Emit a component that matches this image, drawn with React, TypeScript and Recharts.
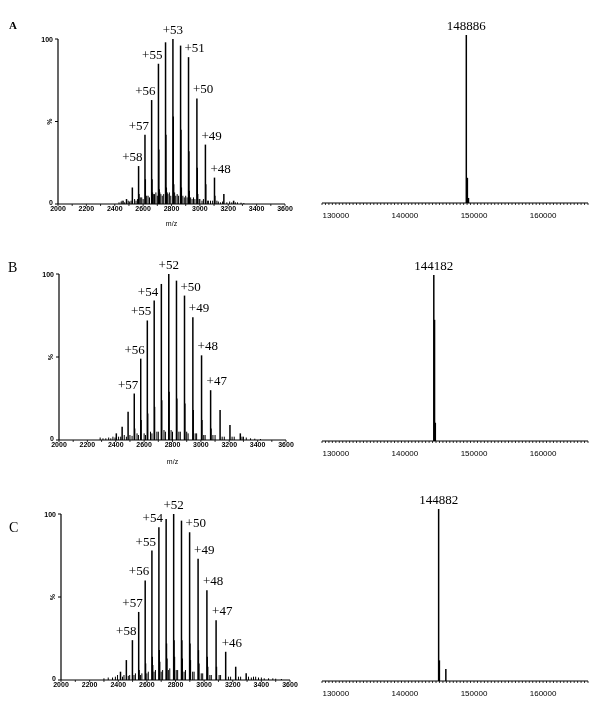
import React from 'react';
import { ScatterChart, Scatter, XAxis, YAxis, ReferenceLine, ReferenceDot } from 'recharts';

// ---------- Panel A ----------
const mzA = [2483, 2524, 2568, 2613, 2660, 2708, 2758, 2810, 2864, 2920, 2979, 3039, 3103, 3169, 3238];
const intA = [3, 10, 23, 42, 63, 85, 98, 100, 96, 89, 64, 36, 16, 6, 2];
const labA = ['', '', '+58', '+57', '+56', '+55', '', '+53', '', '+51', '+50', '+49', '+48', '', ''];
const mzA2 = [2571, 2616, 2663, 2711, 2761, 2813, 2867, 2923, 2982, 3042, 3106, 2666, 2714, 2764, 2816, 2870, 2926, 2985];
const intA2 = [6, 15, 15, 33, 42, 53, 45, 32, 22, 12, 5, 7, 9, 10, 12, 10, 8, 6];
const noiseMzA = [2430, 2445, 2452, 2460, 2470, 2495, 2505, 2515, 2540, 2550, 2560, 2580, 2590, 2600, 2625, 2635, 2645, 2672, 2680, 2690, 2700, 2718, 2725, 2735, 2745, 2770, 2775, 2785, 2795, 2822, 2830, 2840, 2850, 2880, 2890, 2900, 2910, 2935, 2945, 2955, 2965, 2995, 3000, 3015, 3025, 3055, 3060, 3075, 3090, 3120, 3130, 3145, 3160, 3190, 3210, 3225, 3250, 3265, 3290, 3310];
const noiseIntA = [1, 1.5, 2, 2, 1, 2, 1.5, 2, 3, 2, 3, 4, 4, 3, 5, 5, 4, 6, 6, 7, 5, 7, 6, 5, 6, 7, 6, 7, 5, 7, 5, 6, 5, 5, 4, 5, 4, 4, 3, 4, 3, 3, 3, 2, 3, 2, 2, 2, 2, 2, 1.5, 1, 1.5, 1, 1.5, 1, 1, 1, 0.8, 0.6];
const massA = [148886, 149040, 149200];
const massIntA = [100, 15, 3];
const massLabA = ['148886', '', ''];

// ---------- Panel B ----------
const mzB = [2404, 2445, 2487, 2530.5, 2576, 2622.5, 2671, 2721.4, 2773.7, 2828, 2884.6, 2943.5, 3004.8, 3068.7, 3135.4, 3205, 3278];
const intB = [4, 8, 17, 28, 49, 72, 84, 94, 100, 96, 87, 74, 51, 30, 18, 9, 4];
const labB = ['', '', '', '+57', '+56', '+55', '+54', '', '+52', '', '+50', '+49', '+48', '+47', '', '', ''];
const mzB2 = [2533.5, 2579, 2625.5, 2674, 2724.4, 2776.7, 2831, 2887.6, 2946.5, 3007.8, 3071.7];
const intB2 = [7, 12, 16, 20, 24, 29, 25, 22, 18, 12, 7];
const noiseMzB = [2290, 2310, 2330, 2350, 2365, 2380, 2395, 2420, 2435, 2460, 2475, 2500, 2515, 2550, 2560, 2600, 2610, 2645, 2655, 2690, 2700, 2740, 2750, 2790, 2800, 2845, 2855, 2900, 2910, 2960, 2970, 3020, 3030, 3085, 3100, 3150, 3165, 3220, 3235, 3290, 3300, 3320, 3350, 3380, 3420];
const noiseIntB = [1.5, 1, 1, 1.5, 1, 2, 1.5, 2, 2, 3, 2, 3, 2.5, 4, 3, 4, 3, 5, 4, 5, 5, 6, 5, 6, 5, 5, 5, 5, 4, 4, 4, 3, 3, 3, 3, 2, 2, 2, 2, 2, 2, 1.5, 1, 0.8, 0.6];
const massB = [144182, 144290, 144400];
const massIntB = [100, 73, 11];
const massLabB = ['144182', '', ''];

// ---------- Panel C ----------
const mzC = [2415.7, 2456.6, 2499, 2542.8, 2588.2, 2635.2, 2684, 2734.6, 2787.2, 2841.8, 2898.6, 2957.8, 3019.4, 3083.6, 3150.6, 3220.6, 3293.8];
const intC = [5, 12, 24, 41, 60, 78, 92, 97, 100, 96, 89, 73, 54, 36, 17, 8, 4];
const labC = ['', '', '+58', '+57', '+56', '+55', '+54', '', '+52', '', '+50', '+49', '+48', '+47', '+46', '', ''];
const mzC2 = [2545.8, 2591.2, 2638.2, 2687, 2737.6, 2790.2, 2844.8, 2901.6, 2960.8, 3022.4, 3086.6, 2641, 2690, 2740.6, 2793.2, 2847.8, 2904.6, 2963.8, 3025.4];
const intC2 = [6, 10, 14, 18, 22, 24, 24, 22, 18, 14, 8, 9, 11, 13, 14, 13, 12, 10, 8];
const noiseMzC = [2300, 2330, 2360, 2380, 2395, 2430, 2440, 2470, 2480, 2510, 2520, 2555, 2565, 2600, 2610, 2650, 2660, 2700, 2710, 2750, 2760, 2805, 2815, 2860, 2870, 2920, 2930, 2980, 2990, 3040, 3050, 3105, 3115, 3170, 3185, 3240, 3255, 3310, 3330, 3345, 3360, 3380, 3400, 3420, 3450, 3480, 3500, 3540];
const noiseIntC = [1, 1.5, 1.5, 2, 3, 2, 3, 2.5, 3, 3, 4, 3, 4, 4, 5, 5, 6, 5, 6, 6, 7, 6, 6, 5, 6, 5, 5, 4, 4, 3, 3, 3, 3, 2, 2, 2, 2, 2, 1.5, 2, 2, 1.5, 1.5, 1, 1, 1, 0.8, 0.6];
const massC = [144882, 144990, 145925];
const massIntC = [100, 12, 7];
const massLabC = ['144882', '', ''];

// ---------- Axis ticks ----------
const mzTicks = [2000, 2100, 2200, 2300, 2400, 2500, 2600, 2700, 2800, 2900, 3000, 3100, 3200, 3300, 3400, 3500, 3600];
const mzTickLabels = ['2000', '', '2200', '', '2400', '', '2600', '', '2800', '', '3000', '', '3200', '', '3400', '', '3600'];
const massTickLabels: Record<number, string> = { 130000: '130000', 140000: '140000', 150000: '150000', 160000: '160000' };
const massTicks: number[] = [];
for (let t = 128000; t <= 166500; t += 500) massTicks.push(t);

type Peak = { mz: number; i: number; label: string };
const build = (mz: number[], it: number[], lab?: string[]): Peak[] =>
  mz.map((m, k) => ({ mz: m, i: it[k], label: lab ? lab[k] : '' }));

const SANS = '"Liberation Sans", Arial, sans-serif';
const SERIF = '"Liberation Serif", "Times New Roman", serif';

const YTick = (props: any) => {
  const { x, y, payload } = props;
  if (payload.value === 50) {
    return (
      <text x={x - 4} y={y} transform={`rotate(-90 ${x - 4} ${y})`} textAnchor="middle" dy={2.5}
        fontSize={7} fontFamily={SANS} fontWeight="bold" fill="#000">%</text>
    );
  }
  return (
    <text x={x} y={y} dy={payload.value === 0 ? 0.5 : 2.5} textAnchor="end" fontSize={7} fontFamily={SANS} fontWeight="bold" fill="#000">
      {payload.value}
    </text>
  );
};

type SpecProps = {
  left: number; top: number; width: number; height: number;
  margin: { top: number; right: number; bottom: number; left: number };
  kind: 'mz' | 'mass';
  main: Peak[]; minor: Peak[]; noise: Peak[];
  xLabel?: string; tickMargin: number; xHeight: number; labelOffset?: number;
};

function Spectrum(p: SpecProps) {
  const isMz = p.kind === 'mz';
  const apexIdx = p.main.reduce((best, q, k) => (q.i > p.main[best].i ? k : best), 0);
  const all = [...p.main, ...p.minor, ...p.noise];
  return (
    <div style={{ position: 'absolute', left: p.left, top: p.top, width: p.width, height: p.height }}>
      <ScatterChart width={p.width} height={p.height} margin={p.margin}>
        <XAxis
          type="number" dataKey="mz"
          domain={isMz ? [2000, 3600] : [128000, 166500]}
          ticks={isMz ? mzTicks : massTicks}
          interval={0}
          tickFormatter={(v: number) => isMz ? mzTickLabels[mzTicks.indexOf(v)] : (massTickLabels[v] || '')}
          tickSize={2} tickMargin={p.tickMargin} height={p.xHeight}
          axisLine={{ stroke: '#000', strokeWidth: 1 }} tickLine={{ stroke: '#000', strokeWidth: 0.8 }}
          tick={{ fill: '#000', fontSize: isMz ? 7 : 8, fontFamily: SANS, fontWeight: isMz ? 'bold' : 'normal' }}
          label={p.xLabel ? { value: p.xLabel, position: 'insideBottom', offset: p.labelOffset ?? 0, style: { fontSize: 7, fill: '#000', fontFamily: SANS } } : undefined}
        />
        <YAxis
          type="number" dataKey="i" domain={[0, 100]} ticks={[0, 50, 100]} interval={0}
          hide={!isMz} width={20} tickSize={3} tickMargin={2}
          axisLine={{ stroke: '#000', strokeWidth: 1.2 }} tickLine={{ stroke: '#000' }}
          tick={<YTick />}
        />
        <Scatter data={all} isAnimationActive={false} shape={() => <g />} />
        {p.noise.map((q, k) => (
          <ReferenceLine key={'n' + k} segment={[{ x: q.mz, y: 0 }, { x: q.mz, y: q.i }]} stroke="#000" strokeWidth={1} />
        ))}
        {p.minor.map((q, k) => (
          <ReferenceLine key={'s' + k} segment={[{ x: q.mz, y: 0 }, { x: q.mz, y: q.i }]} stroke="#000" strokeWidth={1.3} />
        ))}
        {p.main.map((q, k) => (
          <ReferenceLine key={'m' + k} segment={[{ x: q.mz, y: 0 }, { x: q.mz, y: q.i }]} stroke="#000" strokeWidth={1.5} />
        ))}
        {p.main.filter(q => q.label).map((q) => {
          const k = p.main.indexOf(q);
          const anchor = !isMz || k === apexIdx ? 'middle' : k < apexIdx ? 'end' : 'start';
          const dx = anchor === 'middle' ? 0 : anchor === 'end' ? 4 : -4;
          return (
            <ReferenceDot key={'l' + k} x={q.mz} y={q.i} r={0} fill="none" stroke="none"
              label={(lp: any) => {
                const vb = lp.viewBox || {};
                return (
                  <text x={vb.x + dx} y={vb.y - 5} textAnchor={anchor} fontSize={13} fontFamily={SERIF} fill="#000">
                    {q.label}
                  </text>
                );
              }}
            />
          );
        })}
      </ScatterChart>
    </div>
  );
}

const letterStyle = (l: number, t: number, bold: boolean, size: number): React.CSSProperties => ({
  position: 'absolute', left: l, top: t, fontFamily: SERIF, fontSize: size, fontWeight: bold ? 'bold' : 'normal', color: '#000', lineHeight: 1,
});

export default function App() {
  return (
    <div style={{ position: 'absolute', left: 0, top: 0, width: 604, height: 715, background: '#fff', overflow: 'hidden', filter: 'grayscale(1)' }}>
      <div style={letterStyle(9, 20, true, 11)}>A</div>
      <div style={letterStyle(8, 261, false, 14)}>B</div>
      <div style={letterStyle(9, 521, false, 14)}>C</div>

      <Spectrum left={0} top={0} width={300} height={232} kind="mz"
        margin={{ top: 39, right: 15, bottom: 4, left: 38 }} xHeight={24} tickMargin={0} xLabel="m/z" labelOffset={2}
        main={build(mzA, intA, labA)} minor={build(mzA2, intA2)} noise={build(noiseMzA, noiseIntA)} />
      <Spectrum left={300} top={0} width={304} height={232} kind="mass"
        margin={{ top: 35, right: 16, bottom: 9, left: 22 }} xHeight={20} tickMargin={7}
        main={build(massA, massIntA, massLabA)} minor={[]} noise={[]} />

      <Spectrum left={0} top={235} width={300} height={235} kind="mz"
        margin={{ top: 39, right: 14, bottom: 6, left: 39 }} xHeight={24} tickMargin={0} xLabel="m/z" labelOffset={0}
        main={build(mzB, intB, labB)} minor={build(mzB2, intB2)} noise={build(noiseMzB, noiseIntB)} />
      <Spectrum left={300} top={235} width={304} height={235} kind="mass"
        margin={{ top: 40, right: 16, bottom: 9, left: 22 }} xHeight={20} tickMargin={7}
        main={build(massB, massIntB, massLabB)} minor={[]} noise={[]} />

      <Spectrum left={0} top={470} width={300} height={245} kind="mz"
        margin={{ top: 44, right: 10, bottom: 11, left: 41 }} xHeight={24} tickMargin={0}
        main={build(mzC, intC, labC)} minor={build(mzC2, intC2)} noise={build(noiseMzC, noiseIntC)} />
      <Spectrum left={300} top={470} width={304} height={245} kind="mass"
        margin={{ top: 39, right: 16, bottom: 14, left: 22 }} xHeight={20} tickMargin={7}
        main={build(massC, massIntC, massLabC)} minor={[]} noise={[]} />
    </div>
  );
}
